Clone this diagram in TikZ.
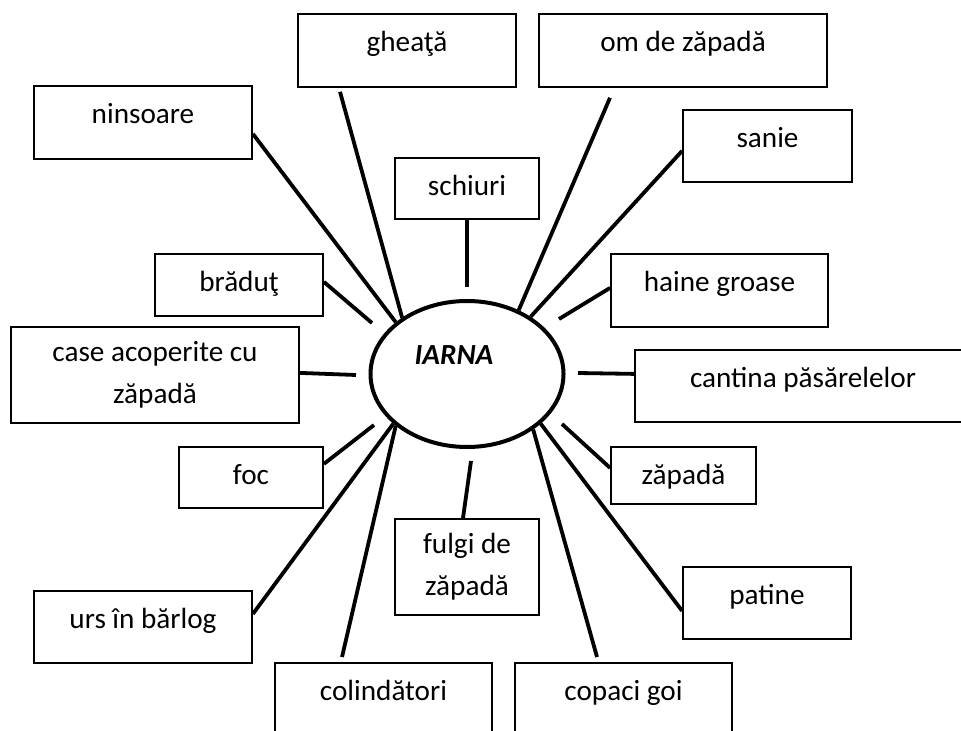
\documentclass[tikz,border=0pt]{standalone}
\usepackage{fontspec}
\setmainfont{Carlito}
\usetikzlibrary{shapes.geometric}

\newcommand{\boxfont}{\fontsize{14.6pt}{21pt}\selectfont}

\tikzset{
  wbox/.style={draw, line width=0.9pt, anchor=north, inner sep=0pt, minimum width=#1, text height=19pt},
  wboxtwo/.style={draw, line width=0.9pt, anchor=north, inner sep=0pt, minimum width=#1, minimum height=48pt, align=center},
  spoke/.style={line width=1.9pt},
}

\begin{document}
\begin{tikzpicture}[x=0.5pt, y=-0.5pt, font=\boxfont]
\clip (0,0) rectangle (961,731);
% centrul
\node[ellipse, draw, line width=2pt, inner sep=0pt, minimum width=96.5pt, minimum height=73pt,
  label={[font=\boxfont\bfseries\itshape, xshift=-6.5pt, yshift=9.5pt]center:IARNA}] (iarna) at (467,374) {};

% casetele
\node[wbox=109pt, text depth=17.5pt] (ghe) at (407,13) {gheaţă};
\node[wbox=144pt, text depth=17.5pt] (om) at (683,13) {om de zăpadă};
\node[wbox=109pt, text depth=17.5pt] (nins) at (143,85) {ninsoare};
\node[wbox=84.5pt, text depth=17pt] (sanie) at (767.5,109) {sanie};
\node[wbox=72pt, text depth=11.5pt] (sch) at (467,157) {schiuri};
\node[wbox=84pt, text depth=12pt] (brad) at (239,253) {brăduţ};
\node[wbox=108.5pt, text depth=17.5pt] (haine) at (719.5,253) {haine groase};
\node[wboxtwo=144pt] (case) at (155,326) {case acoperite cu\\zăpadă};
\node[wbox=168pt, text depth=17pt] (cant) at (803,349) {cantina păsărelelor};
\node[wbox=72pt, text depth=11.5pt] (foc) at (251,446) {foc};
\node[wbox=72.5pt, text depth=9.5pt] (zap) at (683.5,446) {zăpadă};
\node[wboxtwo=72pt] (fulgi) at (467,518) {fulgi de\\zăpadă};
\node[wbox=109pt, text depth=17pt] (urs) at (143,590) {urs în bărlog};
\node[wbox=84pt, text depth=17pt] (pat) at (767,566) {patine};
\node[wbox=108.5pt, text depth=17.5pt] (col) at (383.5,662) {colindători};
\node[wbox=108.5pt, text depth=17.5pt] (cop) at (623.5,662) {copaci goi};

% capete libere langa elipsa
\coordinate (sch-in) at (467,287);
\coordinate (haine-in) at (559,319);
\coordinate (cant-in) at (578,373);
\coordinate (zap-in) at (562,424);
\coordinate (fulgi-in) at (471,461);
\coordinate (foc-in) at (374,425);
\coordinate (case-in) at (356,375);
\coordinate (brad-in) at (372,323);

% liniile
\draw[spoke] ([yshift=-5.75pt]nins.east) -- (iarna.144.6);
\draw[spoke] ([xshift=-33.5pt,yshift=-2pt]ghe.south) -- (iarna.139.3);
\draw[spoke] (sch.south) -- (sch-in);
\draw[spoke] ([xshift=-36.5pt,yshift=-5pt]om.south) -- (iarna.51.1);
\draw[spoke] ([yshift=-2.5pt]sanie.west) -- (iarna.42.1);
\draw[spoke] ([yshift=1.25pt]haine.west) -- (haine-in);
\draw[spoke] ([yshift=6pt]cant.west) -- (cant-in);
\draw[spoke] ([yshift=3.75pt]zap.west) -- (zap-in);
\draw[spoke] ([yshift=-4pt]pat.west) -- (iarna.-34.9);
\draw[spoke] ([xshift=-13.25pt,yshift=2.5pt]cop.north) -- (iarna.-40.7);
\draw[spoke] ([xshift=-2pt]fulgi.north) -- (fulgi-in);
\draw[spoke] ([xshift=-20.75pt,yshift=2.5pt]col.north) -- (iarna.-144.4);
\draw[spoke] ([yshift=6.5pt]urs.east) -- (iarna.-146.3);
\draw[spoke] ([yshift=6.75pt]foc.east) -- (foc-in);
\draw[spoke] ([yshift=1pt]case.east) -- (case-in);
\draw[spoke] ([yshift=1.5pt]brad.east) -- (brad-in);
\end{tikzpicture}
\end{document}
